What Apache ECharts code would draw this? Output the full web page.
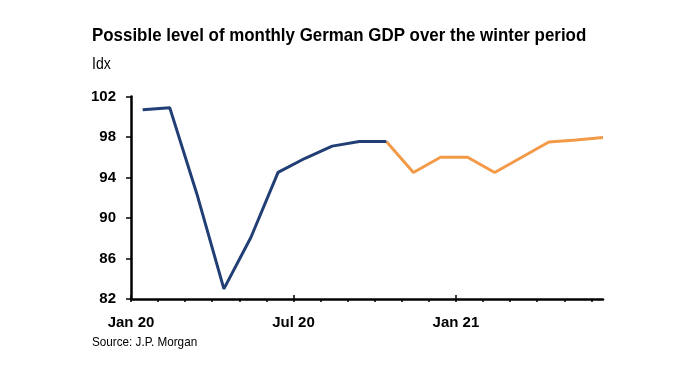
<!DOCTYPE html>
<html>
<head>
<meta charset="utf-8">
<script src="https://cdn.jsdelivr.net/npm/echarts@6/dist/echarts.min.js"></script>
<style>
html,body{margin:0;padding:0;background:#fff;}
#c{width:685px;height:384px;}
</style>
</head>
<body>
<div id="c"></div>
<script>
// Months Jan 20 .. Jun 21
const months = ['Jan 20','Feb 20','Mar 20','Apr 20','May 20','Jun 20','Jul 20','Aug 20','Sep 20','Oct 20','Nov 20','Dec 20','Jan 21','Feb 21','Mar 21','Apr 21','May 21','Jun 21'];
// Actual (Jan 20 - Oct 20)
const actual = [100.7, 100.9, 92.4, 83.0, 88.1, 94.5, 95.9, 97.1, 97.55, 97.55];
// Possible path (Oct 20 - Jun 21)
const scenario = [97.55, 94.5, 96.0, 96.0, 94.5, 96.0, 97.5, 97.7, 97.95];
const scenarioStart = 9;
const xTickLabels = {0: 'Jan 20', 6: 'Jul 20', 12: 'Jan 21'};
const titleText = 'Possible level of monthly German GDP over the winter period';
const unitText = 'Idx';
const sourceText = 'Source: J.P. Morgan';

const pointOffset = 0.43; // data sit mid-month, ticks at month starts
const actualData = actual.map((v, i) => [i + pointOffset, v]);
const scenarioData = scenario.map((v, i) => [scenarioStart + i + pointOffset, v]);
const xMax = months.length - 1 + pointOffset;
const allTicks = months.map((m, i) => i);
const majorTicks = Object.keys(xTickLabels).map(Number);
const FONT = 'Liberation Sans, Arial, sans-serif';

const chart = echarts.init(document.getElementById('c'), null, {renderer: 'canvas'});
chart.setOption({
  animation: false,
  backgroundColor: '#fff',
  graphic: [
    {type: 'text', left: 92, top: 26, scaleX: 0.89, originX: 0,
     style: {text: titleText, font: 'bold 19px ' + FONT, fill: '#000'}},
    {type: 'text', left: 92, top: 57, scaleX: 0.88, originX: 0,
     style: {text: unitText, font: '16px ' + FONT, fill: '#000'}},
    {type: 'text', left: 92, top: 336, scaleX: 0.9, originX: 0,
     style: {text: sourceText, font: '13px ' + FONT, fill: '#000'}}
  ],
  grid: {left: 131, right: 82, top: 96.5, bottom: 85, containLabel: false},
  xAxis: [
    {type: 'value', min: 0, max: xMax, position: 'bottom',
     axisLine: {show: true, onZero: false, lineStyle: {color: '#000', width: 2.5}},
     axisTick: {show: true, inside: false, length: 3, customValues: allTicks, lineStyle: {color: '#000', width: 1.5}},
     axisLabel: {show: true, customValues: majorTicks, formatter: v => xTickLabels[Math.round(v)] || '',
       margin: 16, fontFamily: FONT, fontWeight: 'bold', fontSize: 15, color: '#000'},
     splitLine: {show: false}},
    {type: 'value', min: 0, max: xMax, position: 'bottom',
     axisLine: {show: false, onZero: false},
     axisTick: {show: true, inside: true, length: 4, customValues: majorTicks, lineStyle: {color: '#000', width: 1.5}},
     axisLabel: {show: false}, splitLine: {show: false}}
  ],
  yAxis: {type: 'value', min: 82, max: 102, interval: 4,
    axisLine: {show: true, lineStyle: {color: '#000', width: 2.5}},
    axisTick: {show: true, inside: false, length: 5, lineStyle: {color: '#000', width: 1.5}},
    axisLabel: {margin: 15, fontFamily: FONT, fontWeight: 'bold', fontSize: 15, color: '#000'},
    splitLine: {show: false}},
  series: [
    {type: 'line', data: actualData, xAxisIndex: 0, showSymbol: false, symbol: 'none',
     lineStyle: {color: '#213F74', width: 3}, z: 3},
    {type: 'line', data: scenarioData, xAxisIndex: 0, showSymbol: false, symbol: 'none',
     lineStyle: {color: '#F39A48', width: 3}, z: 2}
  ]
});
</script>
</body>
</html>
